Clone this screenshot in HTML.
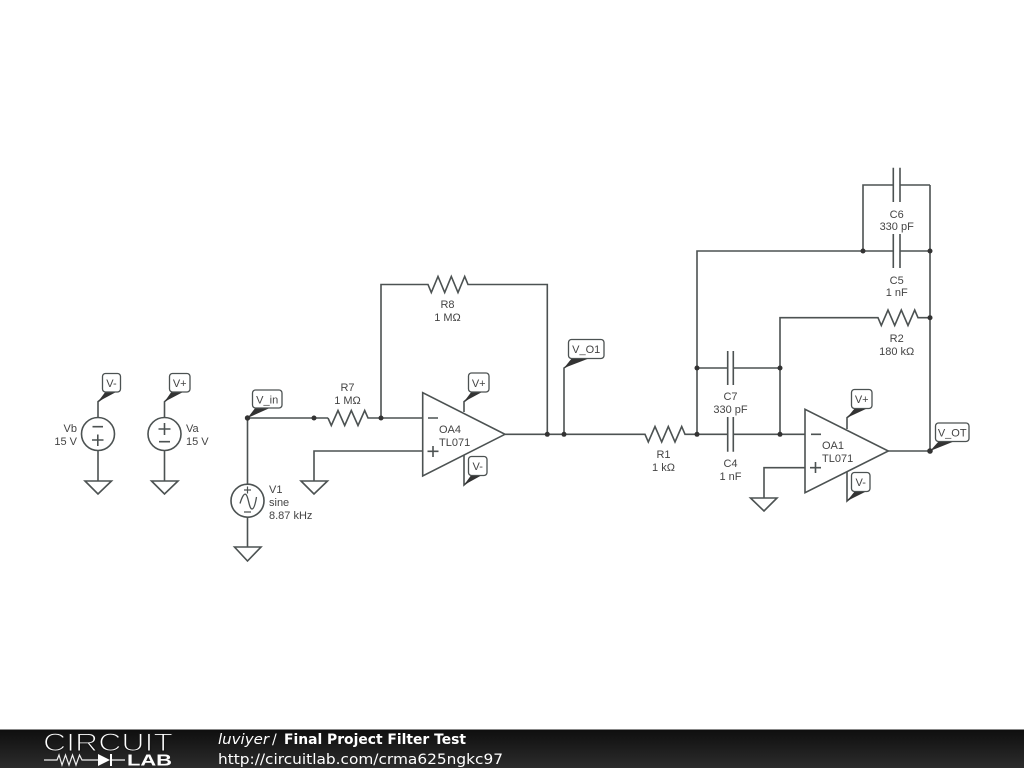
<!DOCTYPE html>
<html><head><meta charset="utf-8"><style>
html,body{margin:0;padding:0;background:#fff;width:1024px;height:768px;overflow:hidden}
svg{display:block;filter:blur(0.35px)}
.w{fill:none;stroke:#4c5252;stroke-width:1.6;stroke-linejoin:miter}
.t{font-family:"Liberation Sans",sans-serif;font-size:11px;fill:#444}
.m{text-anchor:middle}
.e{text-anchor:end}
.lb{fill:#fff;stroke:#4c5252;stroke-width:1.3}
.f{fill:#333;stroke:none}
.d{fill:#333;stroke:none}
</style></head><body>
<svg width="1024" height="768" viewBox="0 0 1024 768" xmlns="http://www.w3.org/2000/svg">
<defs><linearGradient id="g" x1="0" y1="0" x2="0" y2="1"><stop offset="0" stop-color="#0e0e0e"/><stop offset="1" stop-color="#2c2c2c"/></linearGradient></defs>
<rect width="1024" height="768" fill="#fff"/>

<!-- Wires -->
<path class="w" d="M98 417V401.700L104 397"/>
<circle class="w" cx="98" cy="434" r="16.500"/>
<path class="w" d="M98 451V481M85 481H111.500L98 494Z"/>
<path class="w" d="M92.500 426.700H103M92 440H103.500M97.800 434.500V446"/>

<path class="w" d="M164.500 417V401.700L170 397"/>
<circle class="w" cx="164.500" cy="434" r="16.500"/>
<path class="w" d="M164.500 451V481M151.500 481H178L164.500 494Z"/>
<path class="w" d="M158.500 429H170.500M164.500 423V435M159 441.700H170"/>

<path class="w" d="M247.500 484V418H328"/>
<path class="w" d="M328 418L331.300 425.500L338 410.500L344.700 425.500L351.300 410.500L358 425.500L364.700 410.500L368 418H422.700"/>
<circle class="w" cx="247.500" cy="500.700" r="16.500"/>
<path class="w" d="M247.500 517V547M234.500 547H261L247.500 561Z"/>
<path style="stroke-width:1.200" class="w" d="M247.500 486.500V493.500M244 490H251M244 512H251"/>
<path style="stroke-width:1.300" class="w" d="M240 503.500C242 497 244 493 246 494.500C248.500 496.500 249 509 252 509C254 509 255.500 503 256.500 497"/>

<path class="w" d="M314 481V451H422.700M301 481H327.500L314 494Z"/>
<path class="w" d="M381 418V284.500H428L431.300 292.500L438 276.500L444.700 292.500L451.300 276.500L458 292.500L464.700 276.500L468 284.500H547.300V434.300"/>
<path class="w" d="M422.700 392.700V476L505 434.300Z"/>
<path class="w" d="M428 418H438M427.500 451.300H438.500M433 446V457"/>
<path class="w" d="M464 412V401.700L470 397M464 455V485L470 480"/>
<path class="w" d="M564 434.300V368L570 364"/>
<path class="w" d="M505 434.300H645L648.300 442L655 426.500L661.700 442L668.300 426.500L675 442L681.700 426.500L685 434.300H727.700M733.300 434.300H805"/>
<path class="w" d="M727.700 417V451.700M733.300 417V451.700"/>
<path class="w" d="M697 434.300V251H893.300M900 251H930M930 185V451"/>
<path class="w" d="M697 368H727.700M733.300 368H780M727.700 351V385M733.300 351V385M780 434.300V317.700H878L881.300 325.500L888 310L894.700 325.500L901.300 310L908 325.500L914.700 310L918 317.700H930"/>
<path class="w" d="M863 251V185H893.300M900 185H930M893.300 167.700V202M900 167.700V202M893.300 234V268M900 234V268"/>
<path class="w" d="M805 409.300V492.700L888.300 451Z"/>
<path class="w" d="M811 434.300H821M810 467.700H821M815.500 462V473"/>
<path class="w" d="M805 467.700H764V498M750.500 498H777L764 511Z"/>
<path class="w" d="M847 429V417.700L853 413M847 472V501L853 496"/>
<path class="w" d="M888.300 451H930"/>

<!-- Junction dots -->
<circle class="d" cx="247.500" cy="418" r="2.700"/>
<circle class="d" cx="314" cy="418" r="2.500"/>
<circle class="d" cx="381" cy="418" r="2.500"/>
<circle class="d" cx="547.300" cy="434.300" r="2.500"/>
<circle class="d" cx="564" cy="434.300" r="2.500"/>
<circle class="d" cx="697" cy="434.300" r="2.500"/>
<circle class="d" cx="780" cy="434.300" r="2.500"/>
<circle class="d" cx="697" cy="368" r="2.500"/>
<circle class="d" cx="780" cy="368" r="2.500"/>
<circle class="d" cx="863" cy="251" r="2.500"/>
<circle class="d" cx="930" cy="251" r="2.500"/>
<circle class="d" cx="930" cy="317.700" r="2.500"/>
<circle class="d" cx="930" cy="451" r="2.800"/>

<!-- Flags -->
<path class="f" d="M98 401.700L106 391H118Z"/>
<path class="f" d="M164.500 401.700L172 391H185Z"/>
<path class="f" d="M247.500 418L256 407H272Z"/>
<path class="f" d="M464 401.700L472 391H484Z"/>
<path class="f" d="M464 485L472 474H484Z"/>
<path class="f" d="M564 368L572 358H590Z"/>
<path class="f" d="M847 417.700L855 408H868Z"/>
<path class="f" d="M847 501L855 491H867Z"/>
<path class="f" d="M930 451L939 441H955Z"/>

<!-- Net labels -->
<rect class="lb" x="102.500" y="373.500" width="18" height="18.500" rx="3"/>
<text class="t m" x="111.500" y="387">V-</text>
<rect class="lb" x="169.500" y="373.500" width="20.500" height="18.500" rx="3"/>
<text class="t m" x="179.700" y="387">V+</text>
<rect class="lb" x="252.500" y="390" width="29.500" height="18" rx="3"/>
<text class="t m" x="267.200" y="403.500">V_in</text>
<rect class="lb" x="468.500" y="373" width="20.500" height="19" rx="3"/>
<text class="t m" x="478.700" y="387">V+</text>
<rect class="lb" x="468.500" y="456.500" width="18.500" height="19" rx="3"/>
<text class="t m" x="477.700" y="470">V-</text>
<rect class="lb" x="568.500" y="339.500" width="35.500" height="19" rx="3"/>
<text class="t m" x="586.200" y="353">V_O1</text>
<rect class="lb" x="851.500" y="389.500" width="20.500" height="19" rx="3"/>
<text class="t m" x="861.700" y="403">V+</text>
<rect class="lb" x="851.500" y="472.500" width="18.500" height="19" rx="3"/>
<text class="t m" x="860.700" y="486">V-</text>
<rect class="lb" x="935.500" y="423" width="33.500" height="18.500" rx="3"/>
<text class="t m" x="952.200" y="436.500">V_OT</text>

<!-- Component labels -->
<text class="t e" x="77" y="432">Vb</text><text class="t e" x="77" y="445">15 V</text>
<text class="t" x="186" y="432">Va</text><text class="t" x="186" y="445">15 V</text>
<text class="t" x="269" y="493">V1</text><text class="t" x="269" y="506">sine</text><text class="t" x="269" y="519">8.87 kHz</text>
<text class="t m" x="347.500" y="391">R7</text><text class="t m" x="347.500" y="404">1 MΩ</text>
<text class="t m" x="447.500" y="308">R8</text><text class="t m" x="447.500" y="321">1 MΩ</text>
<text class="t" x="439" y="433">OA4</text><text class="t" x="439" y="446">TL071</text>
<text class="t m" x="663.500" y="458">R1</text><text class="t m" x="663.500" y="471">1 kΩ</text>
<text class="t m" x="730.500" y="400">C7</text><text class="t m" x="730.500" y="413">330 pF</text>
<text class="t m" x="730.500" y="467">C4</text><text class="t m" x="730.500" y="480">1 nF</text>
<text class="t" x="822" y="449">OA1</text><text class="t" x="822" y="462">TL071</text>
<text class="t m" x="896.700" y="218">C6</text><text class="t m" x="896.700" y="230">330 pF</text>
<text class="t m" x="896.700" y="284">C5</text><text class="t m" x="896.700" y="296">1 nF</text>
<text class="t m" x="896.700" y="342">R2</text><text class="t m" x="896.700" y="355">180 kΩ</text>

<!-- Footer -->
<rect x="0" y="729" width="1024" height="39" fill="url(#g)"/>
<rect x="0" y="729" width="1024" height="1" fill="#888"/>
<text x="43" y="751" font-family="Liberation Sans, sans-serif" font-size="25" fill="#fff" stroke="#161616" stroke-width="1.100" style="paint-order:fill stroke" textLength="130" lengthAdjust="spacingAndGlyphs">CIRCUIT</text>
<path d="M44 760H57L59 755L62 765L65.500 755L69 765L72.500 755L76 765L79.500 755L82 760H98" fill="none" stroke="#eee" stroke-width="1.200"/>
<path d="M98 754V766L110 760Z" fill="#fff"/><path d="M111 754V766" stroke="#fff" stroke-width="2"/><path d="M110 760H125" stroke="#fff" stroke-width="1.200"/>
<text x="127" y="765.500" font-family="Liberation Sans, sans-serif" font-size="15.500" font-weight="bold" fill="#fff" textLength="45" lengthAdjust="spacingAndGlyphs">LAB</text>
<text x="218" y="744" font-family="DejaVu Sans, sans-serif" font-size="14.500" font-style="italic" fill="#fff" textLength="51" lengthAdjust="spacingAndGlyphs">luviyer</text>
<text x="272" y="744" font-family="DejaVu Sans, sans-serif" font-size="14" fill="#fff">/</text>
<text x="284" y="744" font-family="DejaVu Sans, sans-serif" font-size="14" font-weight="bold" fill="#fff" textLength="182" lengthAdjust="spacingAndGlyphs">Final Project Filter Test</text>
<text x="218" y="764" font-family="DejaVu Sans, sans-serif" font-size="14.500" fill="#fff" textLength="285" lengthAdjust="spacingAndGlyphs">http://circuitlab.com/crma625ngkc97</text>
</svg>
</body></html>
